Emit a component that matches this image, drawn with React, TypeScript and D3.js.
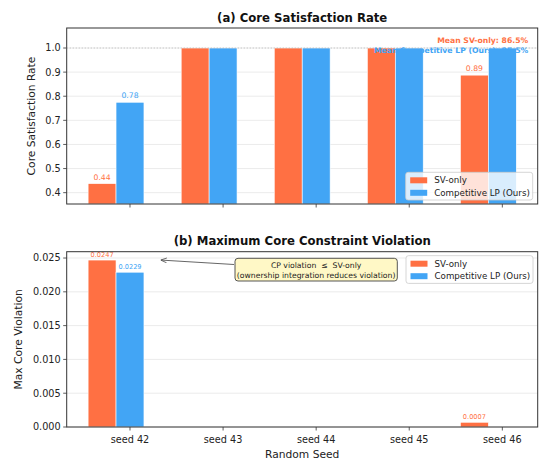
import React from "react";
import * as d3 from "d3";

const seeds = ["seed 42", "seed 43", "seed 44", "seed 45", "seed 46"];
const seriesNames = ["SV-only", "Competitive LP (Ours)"];
const satSV = [0.4375, 1.0, 1.0, 1.0, 0.8875];
const satCP = [0.775, 1.0, 1.0, 1.0, 1.0];
const satLabelsSV = ["0.44", "", "", "", "0.89"];
const satLabelsCP = ["0.78", "", "", "", ""];
const violSV = [0.0247, 0, 0, 0, 0.0007];
const violCP = [0.0229, 0, 0, 0, 0];
const violLabelsSV = ["0.0247", "", "", "", "0.0007"];
const violLabelsCP = ["0.0229", "", "", "", ""];
const satTicks = [0.4, 0.5, 0.6, 0.7, 0.8, 0.9, 1.0];
const violTicks = [0, 0.005, 0.01, 0.015, 0.02, 0.025];

const ORANGE = "#FF7043";
const BLUE = "#42A5F5";
const FONT = "DejaVu Sans, sans-serif";
const SPINE = "#333333";

const W = 550;
const H = 468;
const L = 66.7;
const R = 537.7;

const x = d3.scaleLinear().domain([-0.68, 4.38]).range([L, R]);
const BW = 0.3;

function Legend({ x0, y0 }: { x0: number; y0: number }) {
  const colors = [ORANGE, BLUE];
  return (
    <g>
      <rect x={x0} y={y0} width={127} height={27.7} rx={2.5} fill="white" fillOpacity={0.8} stroke="#cccccc" strokeWidth={0.8} />
      {seriesNames.map((n, i) => (
        <g key={n}>
          <rect x={x0 + 4.5} y={y0 + 5 + i * 12.5} width={17} height={6} fill={colors[i]} />
          <text x={x0 + 28.5} y={y0 + 11 + i * 12.5} fontSize={8.7} fill="#222" fontFamily={FONT}>{n}</text>
        </g>
      ))}
    </g>
  );
}

function Panel({
  top,
  bottom,
  y,
  ticks,
  fmt,
  sv,
  cp,
  labSV,
  labCP,
  labFont,
  labGap,
  title,
  titleY,
  ylabel,
  ylabelX,
  showX,
}: any) {
  return (
    <g>
      {ticks.map((t: number) => (
        <line key={"g" + t} x1={L} x2={R} y1={y(t)} y2={y(t)} stroke="#e6e6e6" strokeWidth={0.8} />
      ))}
      {seeds.map((s, i) => (
        <g key={s}>
          {sv[i] > y.domain()[0] && (
            <rect x={x(i - 0.45)} width={x(BW) - x(0)} y={y(sv[i])} height={Math.max(0, bottom - y(sv[i]))} fill={ORANGE} stroke="white" strokeWidth={0.6} />
          )}
          {cp[i] > y.domain()[0] && (
            <rect x={x(i - 0.15)} width={x(BW) - x(0)} y={y(cp[i])} height={Math.max(0, bottom - y(cp[i]))} fill={BLUE} stroke="white" strokeWidth={0.6} />
          )}
          {labSV[i] && (
            <text x={x(i - 0.3)} y={y(sv[i]) - labGap} textAnchor="middle" fontSize={labFont} fill={ORANGE} fontFamily={FONT}>{labSV[i]}</text>
          )}
          {labCP[i] && (
            <text x={x(i)} y={y(cp[i]) - labGap} textAnchor="middle" fontSize={labFont} fill={BLUE} fontFamily={FONT}>{labCP[i]}</text>
          )}
        </g>
      ))}
      <rect x={L} y={top} width={R - L} height={bottom - top} fill="none" stroke={SPINE} strokeWidth={1} />
      {ticks.map((t: number) => (
        <g key={"t" + t}>
          <line x1={L - 3.5} x2={L} y1={y(t)} y2={y(t)} stroke={SPINE} strokeWidth={0.8} />
          <text x={L - 6} y={y(t)} dy="0.35em" textAnchor="end" fontSize={9.7} fill="#222" fontFamily={FONT}>{fmt(t)}</text>
        </g>
      ))}
      {seeds.map((s, i) => (
        <g key={"x" + s}>
          <line x1={x(i)} x2={x(i)} y1={bottom} y2={bottom + 3.5} stroke={SPINE} strokeWidth={0.8} />
          {showX && (
            <text x={x(i)} y={bottom + 16} textAnchor="middle" fontSize={9.7} fill="#222" fontFamily={FONT}>{s}</text>
          )}
        </g>
      ))}
      <text x={(L + R) / 2} y={titleY} textAnchor="middle" fontSize={11.7} fontWeight="bold" fill="#111" fontFamily={FONT}>{title}</text>
      <text transform={`translate(${ylabelX},${(top + bottom) / 2}) rotate(-90)`} textAnchor="middle" fontSize={10.7} fill="#222" fontFamily={FONT}>{ylabel}</text>
    </g>
  );
}

export default function App() {
  const topA = 28, botA = 204;
  const yA = d3.scaleLinear().domain([0.353, 1.083]).range([botA, topA]);
  const topB = 251.7, botB = 427;
  const yB = d3.scaleLinear().domain([0, d3.max(violSV)! * 1.05]).range([botB, topB]);

  const meanSV = d3.mean(satSV)! * 100;
  const meanCP = d3.mean(satCP)! * 100;

  const arrowTip = { x: x(0.33), y: yB(0.0247) };
  const boxX = 235, boxY = 258.3, boxW = 162.3, boxH = 22.7;

  return (
    <svg width={W} height={H} style={{ position: "absolute", left: 0, top: 0, background: "white" }}>
      <defs>
        <marker id="ah" viewBox="0 0 10 10" refX="10" refY="5" markerWidth="6" markerHeight="6" orient="auto-start-reverse" markerUnits="userSpaceOnUse">
          <path d="M0,1 L10,5 L0,9" fill="none" stroke="#555" strokeWidth={1.4} />
        </marker>
      </defs>
      <rect width={W} height={H} fill="white" />
      <Panel
        top={topA}
        bottom={botA}
        y={yA}
        ticks={satTicks}
        fmt={d3.format(".1f")}
        sv={satSV}
        cp={satCP}
        labSV={satLabelsSV}
        labCP={satLabelsCP}
        labFont={7.7}
        labGap={4}
        title="(a) Core Satisfaction Rate"
        titleY={22}
        ylabel="Core Satisfaction Rate"
        ylabelX={35}
        showX={false}
      />
      <line x1={L} x2={R} y1={yA(1.0)} y2={yA(1.0)} stroke="#aaa" strokeWidth={0.8} strokeDasharray="1.2,1.8" opacity={0.8} />
      <text x={528.3} y={43} textAnchor="end" fontSize={7.7} fontWeight="bold" fill={ORANGE} fontFamily={FONT}>{`Mean SV-only: ${meanSV.toFixed(1)}%`}</text>
      <text x={528.3} y={53} textAnchor="end" fontSize={7.7} fontWeight="bold" fill={BLUE} fontFamily={FONT}>{`Mean Competitive LP (Ours): ${meanCP.toFixed(1)}%`}</text>
      <Legend x0={405.7} y0={172.3} />

      <Panel
        top={topB}
        bottom={botB}
        y={yB}
        ticks={violTicks}
        fmt={d3.format(".3f")}
        sv={violSV}
        cp={violCP}
        labSV={violLabelsSV}
        labCP={violLabelsCP}
        labFont={6.6}
        labGap={3}
        title="(b) Maximum Core Constraint Violation"
        titleY={245}
        ylabel="Max Core Violation"
        ylabelX={22}
        showX={true}
      />
      <text x={(L + R) / 2} y={457.5} textAnchor="middle" fontSize={10.7} fill="#222" fontFamily={FONT}>Random Seed</text>
      <Legend x0={406} y0={255.7} />

      <line x1={boxX - 1} y1={264.5} x2={arrowTip.x} y2={arrowTip.y} stroke="#555" strokeWidth={0.9} markerEnd="url(#ah)" />
      <rect x={boxX} y={boxY} width={boxW} height={boxH} rx={3} fill="#FFF8C6" stroke="#444" strokeWidth={0.9} />
      <text x={boxX + boxW / 2} y={boxY + 9.8} textAnchor="middle" fontSize={7.7} fill="#222" fontFamily={FONT} style={{ whiteSpace: "pre" }}>CP violation  ≤  SV-only</text>
      <text x={boxX + boxW / 2} y={boxY + 19.3} textAnchor="middle" fontSize={7.7} fill="#222" fontFamily={FONT}>(ownership integration reduces violation)</text>
    </svg>
  );
}
